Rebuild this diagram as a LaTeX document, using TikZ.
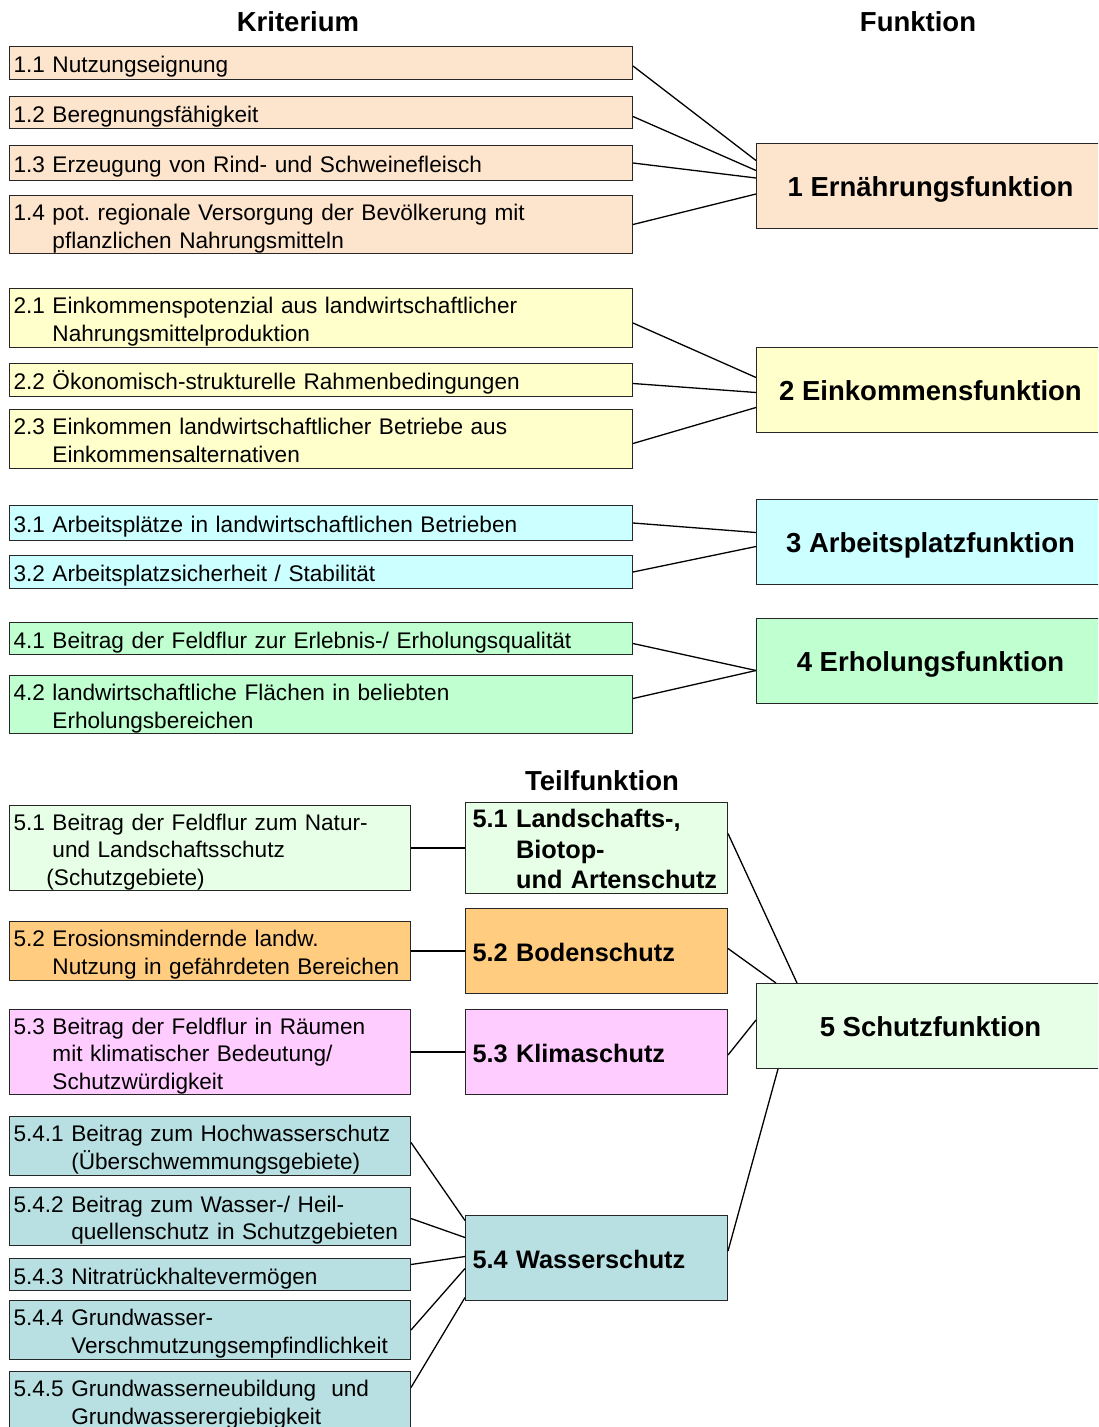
\documentclass[tikz,border=0pt]{standalone}
\usepackage{fontspec}
\setmainfont{Liberation Sans}
\usetikzlibrary{calc}
\frenchspacing
\definecolor{cA}{RGB}{253,228,204}
\definecolor{cB}{RGB}{255,255,204}
\definecolor{cC}{RGB}{204,255,255}
\definecolor{cD}{RGB}{192,255,208}
\definecolor{cE}{RGB}{230,255,230}
\definecolor{cF}{RGB}{255,204,128}
\definecolor{cG}{RGB}{255,204,255}
\definecolor{cH}{RGB}{184,224,226}
\newlength{\dnshift}
\setlength{\dnshift}{4pt}
\newcommand{\tx}[1]{\raisebox{-\dnshift}[\height][\depth]{\begin{tabular}{@{}l@{\ }l@{}}#1\end{tabular}}}
\newcommand{\fx}[1]{\raisebox{-\dnshift}[\height][\depth]{\begin{tabular}{@{}c@{}}#1\end{tabular}}}
\begin{document}
\begin{tikzpicture}[x=1pt,y=-1pt,
  box/.style={rectangle, draw=black!85, line width=1pt, anchor=north west, inner ysep=0pt, align=left},
  crit/.style={box, inner xsep=4pt, minimum width=623, text width=615, font=\fontsize{22.6}{28}\selectfont},
  critb/.style={box, inner xsep=4pt, minimum width=401, text width=393, font=\fontsize{22.6}{27.5}\selectfont},
  teil/.style={box, inner xsep=7pt, minimum width=262, text width=248, minimum height=85, font=\bfseries\fontsize{25.3}{30.3}\selectfont},
  func/.style={box, inner xsep=4pt, minimum width=348, minimum height=85, align=center, font=\bfseries\fontsize{27.5}{33}\selectfont},
  head/.style={font=\bfseries\fontsize{27.5}{33}\selectfont},
  conn/.style={line width=1.3pt, black}]
\clip (0,0) rectangle (1098,1427);
\fill[white] (0,0) rectangle (1098,1427);
% headers
\node[head] (hk) at (298,22) {Kriterium};
\node[head] (hf) at (918,22) {Funktion};
\node[head] (ht) at (602,781) {Teilfunktion};
% section 1
\node[crit, fill=cA, minimum height=33] (c11) at (9,46) {\tx{1.1 & Nutzungseignung}};
\node[crit, fill=cA, minimum height=32] (c12) at (9,96) {\tx{1.2 & Beregnungsfähigkeit}};
\node[crit, fill=cA, minimum height=35] (c13) at (9,145) {\tx{1.3 & Erzeugung von Rind- und Schweinefleisch}};
\node[crit, fill=cA, minimum height=58] (c14) at (9,195) {\tx{1.4 & pot. regionale Versorgung der Bevölkerung mit\\ & pflanzlichen Nahrungsmitteln}};
\node[func, fill=cA] (f1) at (756,143) {\fx{1 Ernährungsfunktion}};
% section 2
\node[crit, fill=cB, minimum height=59] (c21) at (9,288) {\tx{2.1 & Einkommenspotenzial aus landwirtschaftlicher\\ & Nahrungsmittelproduktion}};
\node[crit, fill=cB, minimum height=33] (c22) at (9,363) {\tx{2.2 & Ökonomisch-strukturelle Rahmenbedingungen}};
\node[crit, fill=cB, minimum height=59] (c23) at (9,409) {\tx{2.3 & Einkommen landwirtschaftlicher Betriebe aus\\ & Einkommensalternativen}};
\node[func, fill=cB] (f2) at (756,347) {\fx{2 Einkommensfunktion}};
% section 3
\node[crit, fill=cC, minimum height=35] (c31) at (9,505) {\tx{3.1 & Arbeitsplätze in landwirtschaftlichen Betrieben}};
\node[crit, fill=cC, minimum height=33] (c32) at (9,555) {\tx{3.2 & Arbeitsplatzsicherheit / Stabilität}};
\node[func, fill=cC] (f3) at (756,499) {\fx{3 Arbeitsplatzfunktion}};
% section 4
\node[crit, fill=cD, minimum height=32] (c41) at (9,622) {\tx{4.1 & Beitrag der Feldflur zur Erlebnis-/ Erholungsqualität}};
\node[crit, fill=cD, minimum height=58] (c42) at (9,675) {\tx{4.2 & landwirtschaftliche Flächen in beliebten\\ & Erholungsbereichen}};
\node[func, fill=cD] (f4) at (756,618) {\fx{4 Erholungsfunktion}};
% section 5
\node[critb, fill=cE, minimum height=85] (c51) at (9,805) {\tx{5.1 & Beitrag der Feldflur zum Natur-\\ & und Landschaftsschutz\\ & \hspace*{-6pt}(Schutzgebiete)}};
\node[critb, fill=cF, minimum height=59] (c52) at (9,921) {\tx{5.2 & Erosionsmindernde landw.\\ & Nutzung in gefährdeten Bereichen}};
\node[critb, fill=cG, minimum height=85] (c53) at (9,1009) {\tx{5.3 & Beitrag der Feldflur in Räumen\\ & mit klimatischer Bedeutung/\\ & Schutzwürdigkeit}};
\node[critb, fill=cH, minimum height=59] (c541) at (9,1116) {\tx{5.4.1 & Beitrag zum Hochwasserschutz\\ & (Überschwemmungsgebiete)}};
\node[critb, fill=cH, minimum height=58] (c542) at (9,1187) {\tx{5.4.2 & Beitrag zum Wasser-/ Heil-\\ & quellenschutz in Schutzgebieten}};
\node[critb, fill=cH, minimum height=32] (c543) at (9,1258) {\tx{5.4.3 & Nitratrückhaltevermögen}};
\node[critb, fill=cH, minimum height=59] (c544) at (9,1300) {\tx{5.4.4 & Grundwasser-\\ & Verschmutzungsempfindlichkeit}};
\node[critb, fill=cH, minimum height=59] (c545) at (9,1371) {\tx{5.4.5 & Grundwasserneubildung\ \ und\\ & Grundwasserergiebigkeit}};
\node[teil, fill=cE, minimum height=91] (t51) at (465,802) {\tx{5.1 & Landschafts-,\\ & Biotop-\\ & und Artenschutz}};
\node[teil, fill=cF] (t52) at (465,908) {\tx{5.2 & Bodenschutz}};
\node[teil, fill=cG] (t53) at (465,1009) {\tx{5.3 & Klimaschutz}};
\node[teil, fill=cH] (t54) at (465,1215) {\tx{5.4 & Wasserschutz}};
\node[func, fill=cE] (f5) at (756,983) {\fx{5 Schutzfunktion}};
% connectors section 1
\draw[conn] ($(c11.east)+(0,3)$) -- ($(f1.west)+(0,-25.5)$);
\draw[conn] ($(c12.east)+(0,4)$) -- ($(f1.west)+(0,-15.5)$);
\draw[conn] (c13.east) -- ($(f1.west)+(0,-8)$);
\draw[conn] (c14.east) -- ($(f1.west)+(0,8)$);
% section 2
\draw[conn] ($(c21.east)+(0,5)$) -- ($(f2.west)+(0,-12.5)$);
\draw[conn] ($(c22.east)+(0,3.5)$) -- ($(f2.west)+(0,2.5)$);
\draw[conn] ($(c23.east)+(0,4.5)$) -- ($(f2.west)+(0,17.5)$);
% section 3
\draw[conn] (c31.east) -- ($(f3.west)+(0,-9.5)$);
\draw[conn] (c32.east) -- ($(f3.west)+(0,4.5)$);
% section 4
\draw[conn] ($(c41.east)+(0,5)$) -- ($(f4.west)+(0,9.5)$);
\draw[conn] ($(c42.east)+(0,-6)$) -- ($(f4.west)+(0,9.5)$);
% section 5
\draw[conn] (c51.east) -- (t51.west);
\draw[conn] (c52.east) -- (t52.west);
\draw[conn] (c53.east) -- (t53.west);
\draw[conn] ($(c541.east)+(0,-3.5)$) -- ($(t54.west)+(0,-37.5)$);
\draw[conn] ($(c542.east)+(0,2)$) -- ($(t54.west)+(0,-20.5)$);
\draw[conn] ($(c543.east)+(0,-10)$) -- ($(t54.west)+(0,-1.5)$);
\draw[conn] (c544.east) -- ($(t54.west)+(0,10.5)$);
\draw[conn] ($(c545.east)+(0,-13.5)$) -- ($(t54.west)+(0,39.5)$);
\draw[conn] ($(t51.east)+(0,-14.5)$) -- ($(f5.north west)+(41,0)$);
\draw[conn] ($(t52.east)+(0,-2.5)$) -- ($(f5.north west)+(20,0)$);
\draw[conn] ($(t53.east)+(0,3)$) -- ($(f5.north west)+(0,37)$);
\draw[conn] ($(t54.east)+(0,-7)$) -- ($(f5.south west)+(22,0)$);
\end{tikzpicture}
\end{document}
